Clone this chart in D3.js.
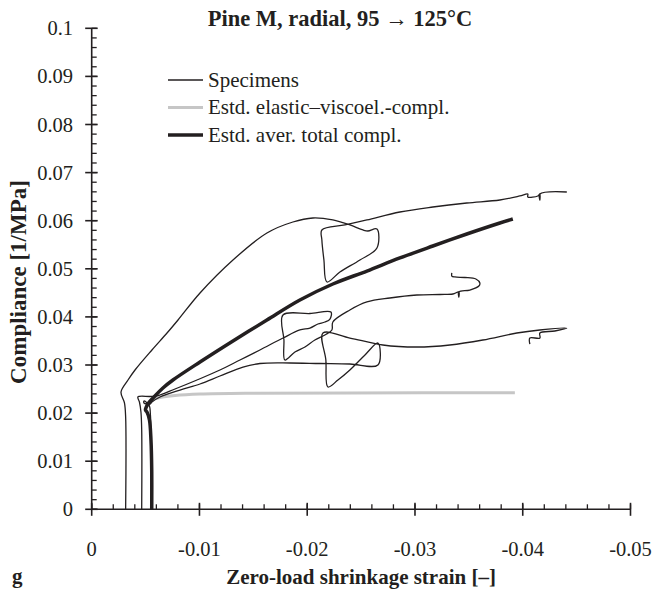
<!DOCTYPE html>
<html>
<head>
<meta charset="utf-8">
<script src="https://cdn.jsdelivr.net/npm/d3@7/dist/d3.min.js"></script>
<style>
  body { margin: 0; background: #fff; }
  svg { display: block; }
  text { font-family: "Liberation Serif", "DejaVu Serif", serif; fill: #231f20; }
</style>
</head>
<body>
<svg id="chart"></svg>
<script>
// Axis ticks
const xTickValues = [0, -0.01, -0.02, -0.03, -0.04, -0.05];
const xTickLabels = ["0", "-0.01", "-0.02", "-0.03", "-0.04", "-0.05"];
const yTickValues = [0, 0.01, 0.02, 0.03, 0.04, 0.05, 0.06, 0.07, 0.08, 0.09, 0.1];
const yTickLabels = ["0", "0.01", "0.02", "0.03", "0.04", "0.05", "0.06", "0.07", "0.08", "0.09", "0.1"];

// Specimen curves: [shrinkage strain, compliance]
const specimenA = [
  [-0.00315, 0], [-0.00315, 0.01919], [-0.00304, 0.02210], [-0.00272, 0.02439],
  [-0.00337, 0.02688], [-0.00402, 0.02896], [-0.00559, 0.03312], [-0.00699, 0.03665],
  [-0.00801, 0.03936], [-0.01005, 0.04497], [-0.01311, 0.05183], [-0.01626, 0.05744],
  [-0.01867, 0.05973], [-0.02053, 0.06056], [-0.02238, 0.06015], [-0.02396, 0.05911],
  [-0.02517, 0.05807], [-0.02563, 0.05786], [-0.02647, 0.05827], [-0.02647, 0.05432],
  [-0.02489, 0.05183], [-0.02303, 0.04933], [-0.02183, 0.04726], [-0.02155, 0.05183],
  [-0.02136, 0.05599], [-0.02136, 0.05807], [-0.02350, 0.05911], [-0.02554, 0.06015],
  [-0.02860, 0.06181], [-0.03166, 0.06285], [-0.03481, 0.06368], [-0.03788, 0.06430],
  [-0.03973, 0.06514], [-0.04047, 0.06555], [-0.04047, 0.06493], [-0.04140, 0.06514],
  [-0.04159, 0.06555], [-0.04159, 0.06430], [-0.04159, 0.06555], [-0.04409, 0.06597]
];
const specimenB = [
  [-0.00464, 0], [-0.00464, 0.01649], [-0.00457, 0.02023], [-0.00443, 0.02231],
  [-0.00429, 0.02335], [-0.00541, 0.02345], [-0.00606, 0.02356], [-0.00773, 0.02501],
  [-0.00977, 0.02688], [-0.01190, 0.02896], [-0.01376, 0.03104], [-0.01561, 0.03312],
  [-0.01775, 0.03561], [-0.01932, 0.03728], [-0.02025, 0.03769], [-0.02099, 0.03852],
  [-0.02164, 0.03894], [-0.02211, 0.03956], [-0.02220, 0.04102], [-0.02025, 0.04071],
  [-0.01775, 0.04040], [-0.01784, 0.03520], [-0.01793, 0.03104], [-0.01886, 0.03270],
  [-0.01979, 0.03374], [-0.02071, 0.03520], [-0.02164, 0.03624], [-0.02229, 0.03728],
  [-0.02238, 0.03894], [-0.02396, 0.04143], [-0.02554, 0.04310], [-0.02767, 0.04393],
  [-0.03018, 0.04455], [-0.03231, 0.04466], [-0.03352, 0.04476], [-0.03407, 0.04518],
  [-0.03407, 0.04414], [-0.03407, 0.04518], [-0.03509, 0.04559], [-0.03593, 0.04642],
  [-0.03602, 0.04705], [-0.03565, 0.04788], [-0.03463, 0.04819], [-0.03370, 0.04830],
  [-0.03342, 0.04850], [-0.03342, 0.04913]
];
const specimenC = [
  [-0.00550, 0], [-0.00550, 0.01441], [-0.00545, 0.01960], [-0.00532, 0.02168],
  [-0.00485, 0.02252], [-0.00485, 0.02210], [-0.00541, 0.02189], [-0.00559, 0.02231],
  [-0.00634, 0.02335], [-0.00819, 0.02480], [-0.01005, 0.02605], [-0.01190, 0.02771],
  [-0.01404, 0.02958], [-0.01561, 0.03031], [-0.01840, 0.03042], [-0.02118, 0.03031],
  [-0.02396, 0.03021], [-0.02656, 0.03000], [-0.02656, 0.03457], [-0.02536, 0.03208],
  [-0.02396, 0.02896], [-0.02285, 0.02688], [-0.02192, 0.02543], [-0.02173, 0.03104],
  [-0.02146, 0.03665], [-0.02396, 0.03561], [-0.02702, 0.03416], [-0.03018, 0.03374],
  [-0.03324, 0.03416], [-0.03630, 0.03520], [-0.03945, 0.03665], [-0.04159, 0.03728],
  [-0.04409, 0.03769], [-0.04298, 0.03707], [-0.04159, 0.03665], [-0.04159, 0.03561],
  [-0.04066, 0.03561], [-0.04066, 0.03436]
];
// Estimated elastic-viscoelastic compliance
const elasticViscoCompl = [
  [-0.00513, 0.02168], [-0.00559, 0.02272], [-0.00634, 0.02324], [-0.00773, 0.02366],
  [-0.01005, 0.02397], [-0.01468, 0.02414], [-0.02396, 0.02418], [-0.03927, 0.02424]
];
// Estimated average total compliance
const averTotalCompl = [
  [-0.00557, 0], [-0.00557, 0.00817], [-0.00550, 0.01441], [-0.00536, 0.01857],
  [-0.00513, 0.02023], [-0.00499, 0.02064], [-0.00522, 0.02189], [-0.00587, 0.02356],
  [-0.00661, 0.02522], [-0.00754, 0.02688], [-0.01005, 0.03062], [-0.01311, 0.03499],
  [-0.01626, 0.03936], [-0.01932, 0.04351], [-0.02238, 0.04684], [-0.02554, 0.04954],
  [-0.02860, 0.05225], [-0.03166, 0.05474], [-0.03481, 0.05723], [-0.03788, 0.05952],
  [-0.03908, 0.06035]
];

const legendItems = [
  { label: "Specimens", color: "#231f20", width: 1.3 },
  { label: "Estd. elastic\u2013viscoel.-compl.", color: "#c6c6c6", width: 3 },
  { label: "Estd. aver. total compl.", color: "#231f20", width: 3.5 }
];

const width = 653, height = 589;
const svg = d3.select("#chart").attr("width", width).attr("height", height);

const x = d3.scaleLinear().domain([0, -0.05]).range([91.7, 630.5]);
const y = d3.scaleLinear().domain([0, 0.1]).range([509.3, 28.3]);

const axisColor = "#231f20";
const g = svg.append("g");

// minor ticks (every 0.002)
const xMinor = d3.range(0, 26).map(i => -i * 0.002);
const yMinor = d3.range(0, 51).map(i => i * 0.002);

g.selectAll(".xminor").data(xMinor).enter().append("line")
  .attr("x1", d => x(d)).attr("x2", d => x(d))
  .attr("y1", y(0)).attr("y2", y(0) - 5)
  .attr("stroke", axisColor).attr("stroke-width", 1.3);
g.selectAll(".yminor").data(yMinor).enter().append("line")
  .attr("x1", x(0)).attr("x2", x(0) + 5)
  .attr("y1", d => y(d)).attr("y2", d => y(d))
  .attr("stroke", axisColor).attr("stroke-width", 1.3);

// major ticks cross the axis
g.selectAll(".xmajor").data(xTickValues).enter().append("line")
  .attr("x1", d => x(d)).attr("x2", d => x(d))
  .attr("y1", y(0) - 6.5).attr("y2", y(0) + 6.5)
  .attr("stroke", axisColor).attr("stroke-width", 1.6);
g.selectAll(".ymajor").data(yTickValues).enter().append("line")
  .attr("x1", x(0) - 6.5).attr("x2", x(0) + 6)
  .attr("y1", d => y(d)).attr("y2", d => y(d))
  .attr("stroke", axisColor).attr("stroke-width", 1.6);

// axis lines
g.append("line").attr("x1", x(0)).attr("x2", x(-0.05)).attr("y1", y(0)).attr("y2", y(0))
  .attr("stroke", axisColor).attr("stroke-width", 1.6);
g.append("line").attr("x1", x(0)).attr("x2", x(0)).attr("y1", y(0)).attr("y2", y(0.1))
  .attr("stroke", axisColor).attr("stroke-width", 1.6);

// tick labels
g.selectAll(".xlab").data(xTickValues).enter().append("text")
  .attr("x", d => x(d)).attr("y", 556)
  .attr("text-anchor", "middle").attr("font-size", 20.5)
  .text((d, i) => xTickLabels[i]);
g.selectAll(".ylab").data(yTickValues).enter().append("text")
  .attr("x", 73).attr("y", d => y(d) + 7)
  .attr("text-anchor", "end").attr("font-size", 20.5)
  .text((d, i) => yTickLabels[i]);

// axis titles
g.append("text").attr("x", (x(0) + x(-0.05)) / 2).attr("y", 584)
  .attr("text-anchor", "middle").attr("font-size", 21).attr("font-weight", "bold")
  .text("Zero-load shrinkage strain [\u2013]");
g.append("text").attr("x", 12).attr("y", 583)
  .attr("font-size", 21).attr("font-weight", "bold").text("g");
g.append("text")
  .attr("transform", "translate(26,282) rotate(-90)")
  .attr("text-anchor", "middle").attr("font-size", 23).attr("font-weight", "bold")
  .text("Compliance [1/MPa]");

// title
g.append("text").attr("x", 340).attr("y", 26)
  .attr("text-anchor", "middle").attr("font-size", 22.5).attr("font-weight", "bold")
  .text("Pine M, radial, 95 \u2192 125\u00b0C");

// curves
const line = d3.line()
  .x(d => x(d[0])).y(d => y(d[1]))
  .curve(d3.curveCatmullRom.alpha(0.5));

const plot = svg.append("g").attr("fill", "none").attr("stroke-linejoin", "round");
plot.append("path").datum(elasticViscoCompl).attr("d", line)
  .attr("stroke", legendItems[1].color).attr("stroke-width", legendItems[1].width);
[specimenA, specimenB, specimenC].forEach(s => {
  plot.append("path").datum(s).attr("d", line)
    .attr("stroke", legendItems[0].color).attr("stroke-width", legendItems[0].width);
});
plot.append("path").datum(averTotalCompl).attr("d", line)
  .attr("stroke", legendItems[2].color).attr("stroke-width", legendItems[2].width);

// legend
const legend = svg.append("g").attr("transform", "translate(168,80)");
legendItems.forEach((item, i) => {
  legend.append("line")
    .attr("x1", 0).attr("x2", 35).attr("y1", i * 27.5).attr("y2", i * 27.5)
    .attr("stroke", item.color).attr("stroke-width", item.width);
  legend.append("text")
    .attr("x", 40).attr("y", i * 27.5 + 6.5)
    .attr("font-size", 21).text(item.label);
});
</script>
</body>
</html>
